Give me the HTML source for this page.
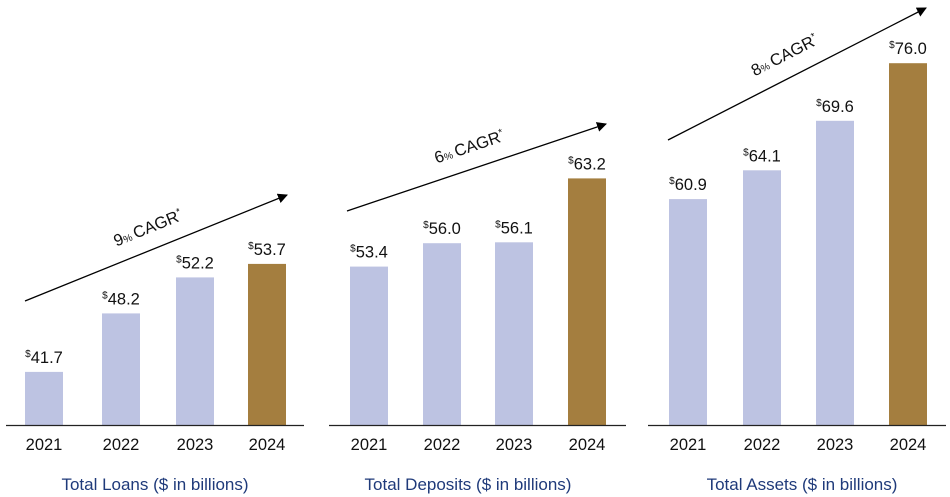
<!DOCTYPE html>
<html><head><meta charset="utf-8"><style>
html,body{margin:0;padding:0;background:#fff;width:950px;height:497px;overflow:hidden}
svg{display:block;font-family:"Liberation Sans",Arial,sans-serif}
</style></head><body>
<svg id="chart" width="950" height="497" viewBox="0 0 950 497">
<defs><marker id="ah" markerWidth="10" markerHeight="10" refX="9" refY="5" orient="auto" markerUnits="userSpaceOnUse"><path d="M0,0 L10,5 L0,10 z" fill="#000"/></marker></defs>
</svg>
<script>
const years = ["2021","2022","2023","2024"];
const loans = [41.7, 48.2, 52.2, 53.7];
const deposits = [53.4, 56.0, 56.1, 63.2];
const assets = [60.9, 64.1, 69.6, 76.0];
const titles = ["Total Loans ($ in billions)","Total Deposits ($ in billions)","Total Assets ($ in billions)"];
const cagrs = ["9","6","8"];
const NS="http://www.w3.org/2000/svg";
const svg=document.getElementById('chart');
const baseY=425, minV=35.8, pxPer=9;
function y(v){return baseY-(v-minV)*pxPer;}
function mk(tag,attrs,parent){const e=document.createElementNS(NS,tag);for(const k in attrs)e.setAttribute(k,attrs[k]);(parent||svg).appendChild(e);return e;}
const panels=[
 {data:loans,bars:[25,102,176,248],ax:[6,304],arrow:[25,301,287,195],lab:[150,233],tc:155},
 {data:deposits,bars:[350,423,495,568],ax:[329,626],arrow:[347,211,606,124],lab:[471,152],tc:468},
 {data:assets,bars:[669,743,816,889],ax:[648,946],arrow:[668,140,926,8],lab:[787,60],tc:802}
];
const bw=38;
panels.forEach((p,pi)=>{
 const g=mk('g',{});
 
 
 p.data.forEach((v,i)=>{
  const r=mk('rect',{x:p.bars[i],y:y(v),width:bw,height:baseY-y(v),fill:i===3?'#A47E3F':'#BDC3E2'},g);
  
  
  const t=mk('text',{x:p.bars[i]+bw/2,y:y(v)-9,'text-anchor':'middle','font-size':'16.5',fill:'#111'},g);
  
  
  const s=mk('tspan',{'font-size':'10','dy':'-6'},t);s.textContent='$';
  const n=mk('tspan',{dy:'6'},t);n.textContent=v.toFixed(1);
  const yl=mk('text',{x:p.bars[i]+bw/2,y:450,'text-anchor':'middle','font-size':'16.5',fill:'#111'},g);
  
  
  yl.textContent=years[i];
 });
 const ax=mk('line',{x1:p.ax[0],x2:p.ax[1],y1:baseY+0.5,y2:baseY+0.5,stroke:'#222','stroke-width':1.2},g);
 
 
 const a=p.arrow;
 const ar=mk('line',{x1:a[0],y1:a[1],x2:a[2],y2:a[3],stroke:'#000','stroke-width':1.3,'marker-end':'url(#ah)'},g);
 
 
 const ang=Math.atan2(a[3]-a[1],a[2]-a[0])*180/Math.PI;
 const ct=mk('text',{x:p.lab[0],y:p.lab[1],'text-anchor':'middle','font-size':'16.5',fill:'#111',transform:`rotate(${ang} ${p.lab[0]} ${p.lab[1]})`},g);
 
 
 const c1=mk('tspan',{},ct);c1.textContent=cagrs[pi];
 const c2=mk('tspan',{'font-size':'10'},ct);c2.textContent='% ';
 const c3=mk('tspan',{},ct);c3.textContent='CAGR';
 const c4=mk('tspan',{'font-size':'10',dy:'-6'},ct);c4.textContent='*';
 const tt=mk('text',{x:p.tc,y:490,'text-anchor':'middle','font-size':'17',fill:'#1F3A7A'},g);
 
 
 tt.textContent=titles[pi];
});
</script>
</body></html>
